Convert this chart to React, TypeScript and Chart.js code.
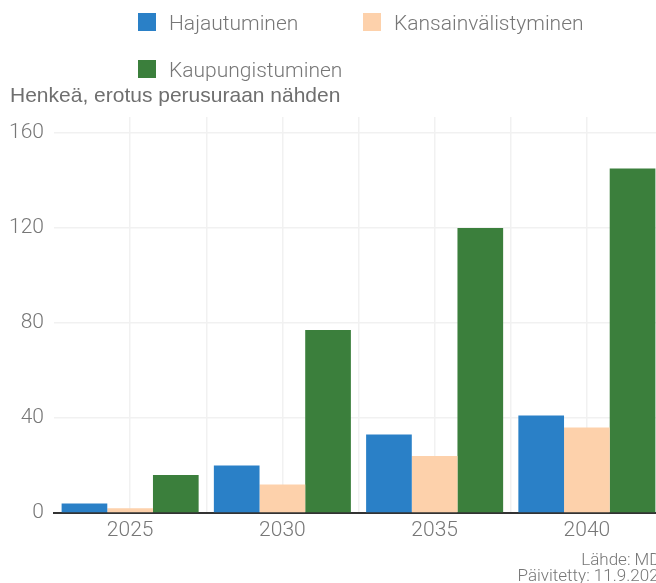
import React, { useEffect, useRef } from 'react';
import { Chart, registerables } from 'chart.js';

Chart.register(...registerables);

const categories = ['2025', '2030', '2035', '2040'];
const seriesNames = ['Hajautuminen', 'Kansainvälistyminen', 'Kaupungistuminen'];
const hajautuminen = [4, 20, 33, 41];
const kansainvalistyminen = [2, 12, 24, 36];
const kaupungistuminen = [16, 77, 120, 145];
const yTicks = [0, 40, 80, 120, 160];
const axisTitle = 'Henkeä, erotus perusuraan nähden';
const sourceLines = ['Lähde: MDI', 'Päivitetty: 11.9.2024'];
const seriesColors = ['#2a80c7', '#fdd1ab', '#3b7f3c'];

const GRID = '#f1f1f1';
const TEXT = '#777777';

const overlayPlugin = {
  id: 'overlay',
  afterDraw(chart: any) {
    const ctx = chart.ctx as CanvasRenderingContext2D;
    ctx.save();
    // legend (two-column grid)
    const colX = [138, 363];
    const rowY = [13, 60];
    chart.data.datasets.forEach((ds: any, i: number) => {
      const x = colX[i % 2];
      const y = rowY[Math.floor(i / 2)];
      ctx.fillStyle = ds.backgroundColor;
      ctx.fillRect(x, y, 18, 18);
      ctx.fillStyle = TEXT;
      ctx.font = '300 21px Roboto';
      ctx.textAlign = 'left';
      ctx.textBaseline = 'alphabetic';
      ctx.fillText(ds.label, x + 31, y + 17);
    });
    // axis title
    ctx.fillStyle = '#6f6f6f';
    ctx.font = '21px "Liberation Sans", Arial, sans-serif';
    ctx.textAlign = 'left';
    ctx.fillText(axisTitle, 10, 102);
    // footnotes
    ctx.fillStyle = TEXT;
    ctx.font = '300 17px Roboto';
    ctx.textAlign = 'right';
    ctx.fillText(sourceLines[0], chart.width - 15, 565);
    ctx.fillText(sourceLines[1], chart.width - 12, 581);
    ctx.restore();
  },
};

export default function App() {
  const ref = useRef<HTMLCanvasElement | null>(null);

  useEffect(() => {
    document.body.style.margin = '0';
    if (!ref.current) return;
    const tickFont = { family: 'Roboto', size: 21, weight: 300 as any };
    const chart = new Chart(ref.current, {
      type: 'bar',
      data: {
        labels: categories,
        datasets: [
          { label: seriesNames[0], data: hajautuminen, backgroundColor: seriesColors[0] },
          { label: seriesNames[1], data: kansainvalistyminen, backgroundColor: seriesColors[1] },
          { label: seriesNames[2], data: kaupungistuminen, backgroundColor: seriesColors[2] },
        ],
      },
      options: {
        responsive: false,
        animation: false,
        events: [],
        datasets: { bar: { categoryPercentage: 0.9, barPercentage: 1.0 } },
        layout: { padding: { left: 10, right: 17, top: 117, bottom: 40 } },
        plugins: {
          legend: { display: false },
          title: { display: false },
          tooltip: { enabled: false },
        },
        scales: {
          x: {
            type: 'category',
            offset: true,
            grid: { offset: false, color: GRID, lineWidth: 1.5, drawTicks: false },
            border: { display: true, color: '#333333', width: 2 },
            ticks: { color: TEXT, font: tickFont, padding: 5 },
            afterFit: (s: any) => { s.height = 30; },
          },
          x2: {
            type: 'category',
            position: 'bottom',
            labels: categories,
            offset: true,
            grid: {
              offset: true,
              drawTicks: false,
              lineWidth: 1.5,
              color: (c: any) => (c.index === 0 ? 'rgba(0,0,0,0)' : GRID),
            },
            border: { display: false },
            ticks: { display: false },
          },
          y: {
            min: 0,
            max: 166.7,
            afterBuildTicks: (s: any) => { s.ticks = yTicks.map((v) => ({ value: v })); },
            grid: { color: GRID, lineWidth: 1.5, drawTicks: false },
            border: { display: false },
            ticks: { color: TEXT, font: tickFont, padding: 10 },
            afterFit: (s: any) => { s.width = 44; },
          },
        },
      },
      plugins: [overlayPlugin],
    });
    return () => chart.destroy();
  }, []);

  return (
    <div style={{ width: 656, height: 583, overflow: 'hidden', position: 'relative' }}>
      <canvas ref={ref} width={680} height={583} style={{ display: 'block' }} />
    </div>
  );
}
